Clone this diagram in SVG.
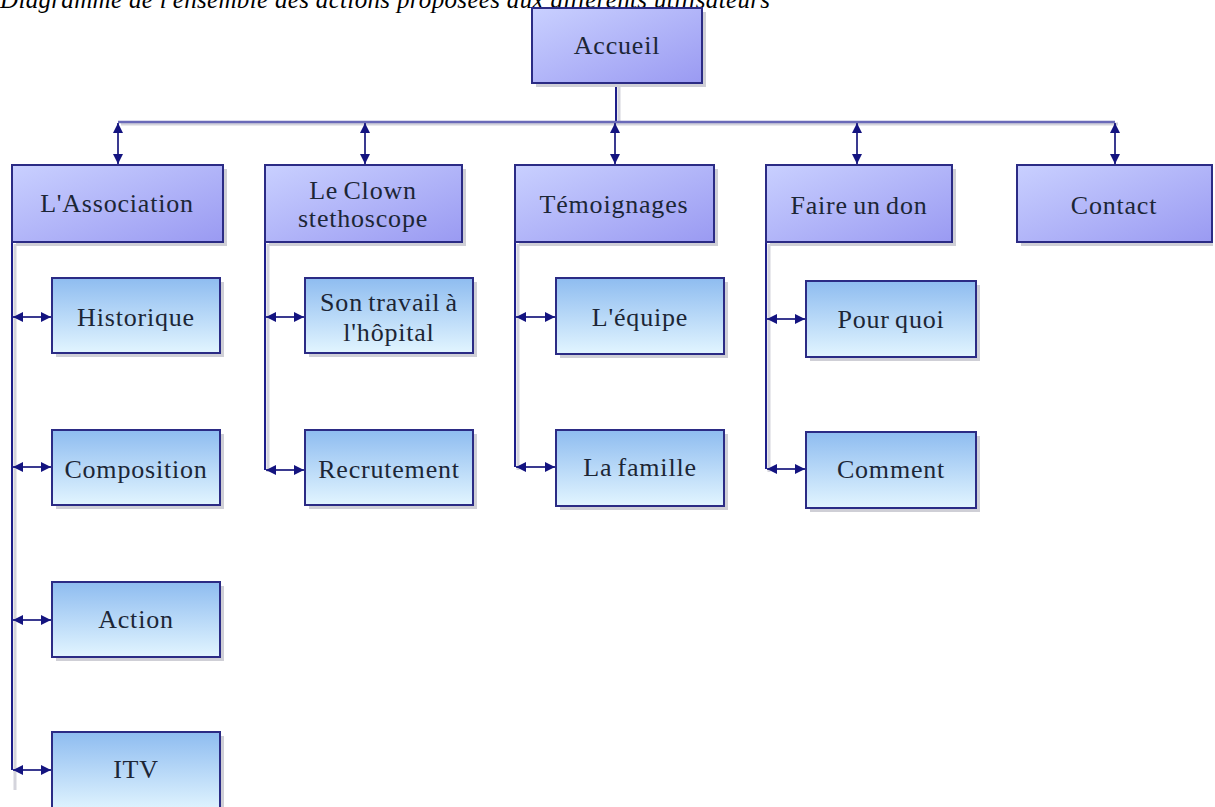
<svg xmlns="http://www.w3.org/2000/svg" width="1215" height="807" viewBox="0 0 1215 807">
<style>
.top{fill:url(#gTop);stroke:#2b2b85;stroke-width:2}
.sub{fill:url(#gSub);stroke:#2b2b85;stroke-width:2}
.sh{fill:#cfcfd6}
.t{font-family:"Liberation Serif",serif;font-size:26px;letter-spacing:0.8px;word-spacing:-2px;fill:#1c2636;text-anchor:middle}
.ln{stroke:#1e1e8a;stroke-width:2;fill:none}
.bar{stroke:#6a6ab8;stroke-width:2.5;fill:none}
.lsh{stroke:#d4d4dc;stroke-width:3;fill:none}
.arr{stroke:#3a3a90;stroke-width:2;fill:none;marker-start:url(#ah);marker-end:url(#ah)}
</style>
<defs>
<linearGradient id="gTop" x1="0" y1="0" x2="1" y2="1">
<stop offset="0" stop-color="#c9d0ff"/>
<stop offset="1" stop-color="#9a9af2"/>
</linearGradient>
<linearGradient id="gSub" x1="0" y1="0" x2="0" y2="1">
<stop offset="0" stop-color="#8ebcf0"/>
<stop offset="1" stop-color="#e2f5ff"/>
</linearGradient>
<marker id="ah" viewBox="0 0 10 10" refX="10" refY="5" markerWidth="5.5" markerHeight="5" orient="auto-start-reverse" markerUnits="strokeWidth">
<path d="M0,0 L10,5 L0,10 z" fill="#141480"/>
</marker>
</defs>
<rect width="1215" height="807" fill="#ffffff"/>
<text x="0" y="8" font-family="Liberation Serif, serif" font-style="italic" font-size="25" fill="#000" textLength="770" lengthAdjust="spacing">Diagramme de l'ensemble des actions proposées aux différents utilisateurs</text>

<g id="connectors">
<path class="lsh" d="M619,87 V124 M121,124 H1118 M15,244 V790 M268,244 V472 M518,244 V470 M769,244 V472"/>
<path class="ln" d="M616,84 V122"/>
<path class="bar" d="M118,122 H1115"/>
<path class="arr" d="M118,123 V164"/>
<path class="arr" d="M365,123 V164"/>
<path class="arr" d="M615,123 V164"/>
<path class="arr" d="M857,123 V164"/>
<path class="arr" d="M1115,123 V164"/>
<path class="ln" d="M12,242 V770 M265,242 V470 M515,242 V467 M766,242 V469"/>
<path class="arr" d="M13,317 H51"/>
<path class="arr" d="M13,467 H51"/>
<path class="arr" d="M13,620 H51"/>
<path class="arr" d="M13,770 H51"/>
<path class="arr" d="M266,317 H304"/>
<path class="arr" d="M266,470 H304"/>
<path class="arr" d="M516,317 H555"/>
<path class="arr" d="M516,467 H555"/>
<path class="arr" d="M767,319 H805"/>
<path class="arr" d="M767,469 H805"/>
</g>

<g id="accueil"><rect class="sh" x="536" y="12" width="170" height="75"/><rect class="top" x="532" y="8" width="170" height="75"/><text class="t" x="617" y="54">Accueil</text></g>

<g id="association"><rect class="sh" x="16" y="169" width="211" height="77"/><rect class="top" x="12" y="165" width="211" height="77"/><text class="t" x="117" y="212">L'Association</text></g>
<g id="clown"><rect class="sh" x="269" y="169" width="197" height="77"/><rect class="top" x="265" y="165" width="197" height="77"/><text class="t" x="363" y="199">Le Clown</text><text class="t" x="363" y="227">stethoscope</text></g>
<g id="temoignages"><rect class="sh" x="519" y="169" width="199" height="77"/><rect class="top" x="515" y="165" width="199" height="77"/><text class="t" x="614" y="213">Témoignages</text></g>
<g id="don"><rect class="sh" x="770" y="169" width="186" height="77"/><rect class="top" x="766" y="165" width="186" height="77"/><text class="t" x="859" y="214">Faire un don</text></g>
<g id="contact"><rect class="sh" x="1021" y="169" width="192" height="77"/><rect class="top" x="1017" y="165" width="195" height="77"/><text class="t" x="1114" y="214">Contact</text></g>

<g id="historique"><rect class="sh" x="56" y="282" width="168" height="75"/><rect class="sub" x="52" y="278" width="168" height="75"/><text class="t" x="136" y="326">Historique</text></g>
<g id="composition"><rect class="sh" x="56" y="434" width="168" height="75"/><rect class="sub" x="52" y="430" width="168" height="75"/><text class="t" x="136" y="478">Composition</text></g>
<g id="action"><rect class="sh" x="56" y="586" width="168" height="75"/><rect class="sub" x="52" y="582" width="168" height="75"/><text class="t" x="136" y="628">Action</text></g>
<g id="itv"><rect class="sh" x="56" y="736" width="168" height="75"/><rect class="sub" x="52" y="732" width="168" height="80"/><text class="t" x="136" y="778">ITV</text></g>

<g id="travail"><rect class="sh" x="309" y="282" width="168" height="75"/><rect class="sub" x="305" y="278" width="168" height="75"/><text class="t" x="389" y="311">Son travail à</text><text class="t" x="389" y="341">l'hôpital</text></g>
<g id="recrutement"><rect class="sh" x="309" y="434" width="168" height="75"/><rect class="sub" x="305" y="430" width="168" height="75"/><text class="t" x="389" y="478">Recrutement</text></g>

<g id="equipe"><rect class="sh" x="560" y="282" width="168" height="76"/><rect class="sub" x="556" y="278" width="168" height="76"/><text class="t" x="640" y="326">L'équipe</text></g>
<g id="famille"><rect class="sh" x="560" y="434" width="168" height="76"/><rect class="sub" x="556" y="430" width="168" height="76"/><text class="t" x="640" y="476">La famille</text></g>

<g id="pourquoi"><rect class="sh" x="810" y="285" width="170" height="76"/><rect class="sub" x="806" y="281" width="170" height="76"/><text class="t" x="891" y="328">Pour quoi</text></g>
<g id="comment"><rect class="sh" x="810" y="436" width="170" height="76"/><rect class="sub" x="806" y="432" width="170" height="76"/><text class="t" x="891" y="478">Comment</text></g>
</svg>
